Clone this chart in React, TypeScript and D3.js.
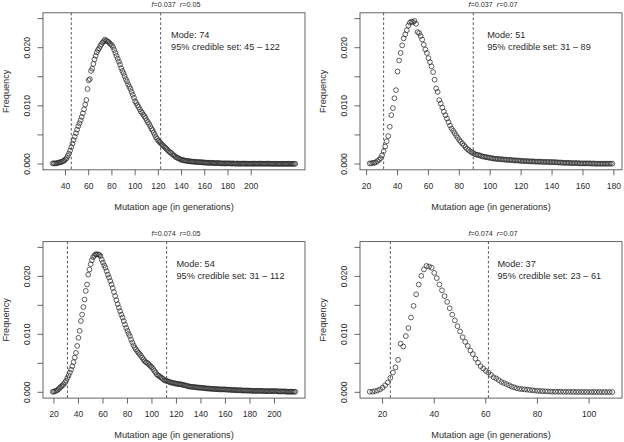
import React from "react";
import * as d3 from "d3";

// ---------- data (frequency values in units of 1e-3, one per generation) ----------
const startAge1 = 29;
const freq1 = [
  0.1, 0.1, 0.1, 0.1, 0.2, 0.2, 0.3, 0.3, 0.4, 0.5,
  0.6, 0.8, 1.0, 1.4, 1.8, 2.3, 2.9, 3.5, 4.1, 4.7,
  5.3, 5.9, 6.5, 7.0, 7.5, 8.1, 8.7, 9.4, 10.2, 11.0,
  12.9, 14.4, 14.6, 16.0, 16.4, 17.2, 18.0, 18.6, 19.2, 19.6,
  19.9, 20.3, 20.6, 20.9, 21.1, 21.4, 21.2, 21.1, 21.0, 20.8,
  20.6, 20.4, 20.1, 19.6, 19.1, 18.6, 18.1, 17.6, 17.1, 16.5,
  16.0, 15.6, 15.1, 14.6, 14.2, 13.7, 13.3, 12.9, 12.4, 11.9,
  11.4, 10.8, 10.5, 10.1, 9.8, 9.4, 9.0, 8.8, 8.5, 8.2,
  7.9, 7.5, 7.2, 6.9, 6.5, 6.1, 5.8, 5.4, 5.0, 4.6,
  4.3, 4.0, 3.8, 3.6, 3.4, 3.2, 3.0, 2.8, 2.6, 2.4,
  2.2, 2.0, 1.9, 1.7, 1.5, 1.4, 1.2, 1.1, 1.0, 0.9,
  0.8, 0.7, 0.7, 0.6, 0.6, 0.55, 0.5, 0.5, 0.45, 0.45,
  0.4, 0.4, 0.4, 0.35, 0.35, 0.35, 0.3, 0.3, 0.3, 0.3,
  0.25, 0.25, 0.25, 0.2, 0.2, 0.2, 0.2, 0.2, 0.2, 0.15,
  0.15, 0.15, 0.15, 0.15, 0.15, 0.1, 0.1, 0.1, 0.1, 0.1,
  0.1, 0.1, 0.1, 0.1, 0.05, 0.1, 0.1, 0.05, 0.05, 0.1,
  0.05, 0.05, 0.05, 0.05, 0.1, 0.05, 0.05, 0.05, 0.05, 0.05,
  0.05, 0.05, 0.05, 0.05, 0.05, 0.05, 0.05, 0.05, 0.05, 0.05,
  0.05, 0.05, 0.05, 0.05, 0.05, 0.05, 0.05, 0.05, 0.05, 0.03,
  0.03, 0.03, 0.03, 0.03, 0.03, 0.03, 0.03, 0.03, 0.03, 0.03,
  0.03, 0.03, 0.03, 0.03, 0.03, 0.03, 0.03, 0.03, 0.03, 0.03,
];

const startAge2 = 22;
const freq2 = [
  0.1, 0.1, 0.2, 0.2, 0.3, 0.5, 0.7, 1.0, 1.5, 2.2,
  3.0, 3.9, 4.8, 6.4, 8.4, 9.6, 11.3, 12.7, 15.9, 17.8,
  19.1, 20.4, 21.6, 22.3, 23.0, 23.8, 24.3, 24.5, 24.4, 24.6,
  24.1, 22.7, 22.5, 22.0, 21.4, 20.5, 19.7, 19.1, 18.2, 17.5,
  16.8, 15.8, 14.5, 13.0, 12.4, 11.0, 10.4, 9.7, 9.0, 8.4,
  7.8, 7.2, 6.6, 6.1, 5.7, 5.3, 4.9, 4.5, 4.1, 3.8,
  3.5, 3.2, 2.9, 2.6, 2.4, 2.2, 2.0, 1.9, 1.7, 1.6,
  1.55, 1.5, 1.4, 1.3, 1.25, 1.2, 1.15, 1.1, 1.05, 1.0,
  0.95, 0.9, 0.9, 0.85, 0.85, 0.8, 0.8, 0.75, 0.75, 0.7,
  0.7, 0.7, 0.65, 0.65, 0.6, 0.6, 0.6, 0.55, 0.55, 0.5,
  0.5, 0.5, 0.5, 0.45, 0.45, 0.45, 0.45, 0.4, 0.4, 0.4,
  0.4, 0.4, 0.35, 0.35, 0.35, 0.35, 0.35, 0.3, 0.35, 0.3,
  0.3, 0.3, 0.25, 0.25, 0.25, 0.2, 0.2, 0.2, 0.2, 0.2,
  0.15, 0.15, 0.15, 0.15, 0.15, 0.15, 0.1, 0.1, 0.1, 0.1,
  0.1, 0.1, 0.1, 0.1, 0.05, 0.1, 0.05, 0.05, 0.05, 0.05,
  0.05, 0.05, 0.05, 0.05, 0.05, 0.05, 0.05, 0.05,
];

const startAge3 = 19;
const freq3 = [
  0.1, 0.1, 0.2, 0.3, 0.4, 0.6, 0.8, 1.0, 1.2, 1.4,
  1.7, 2.0, 2.5, 2.9, 3.4, 3.9, 4.5, 5.2, 6.0, 6.8,
  8.0, 9.4, 10.6, 12.3, 13.4, 14.7, 16.0, 17.5, 18.6, 20.3,
  21.2, 22.1, 22.8, 23.3, 23.6, 23.8, 23.8, 23.8, 23.7, 23.5,
  22.9, 22.4, 21.9, 21.5, 20.9, 20.3, 19.8, 19.2, 18.6, 18.0,
  17.3, 16.6, 15.9, 15.2, 14.6, 14.0, 13.4, 12.9, 12.3, 11.7,
  11.1, 10.6, 10.1, 9.7, 9.1, 8.6, 8.1, 7.7, 7.4, 7.1,
  6.8, 6.6, 6.3, 6.0, 5.7, 5.4, 5.2, 5.1, 4.9, 4.7,
  4.5, 4.3, 4.0, 3.7, 3.4, 3.1, 2.9, 2.8, 2.6, 2.5,
  2.3, 2.1, 2.0, 2.0, 1.9, 1.8, 1.7, 1.7, 1.6, 1.6,
  1.5, 1.5, 1.45, 1.4, 1.4, 1.35, 1.3, 1.25, 1.2, 1.15,
  1.1, 1.0, 1.0, 0.95, 0.95, 0.9, 0.9, 0.85, 0.85, 0.8,
  0.8, 0.8, 0.75, 0.75, 0.7, 0.7, 0.65, 0.65, 0.65, 0.6,
  0.6, 0.6, 0.55, 0.55, 0.55, 0.55, 0.5, 0.5, 0.5, 0.5,
  0.5, 0.5, 0.45, 0.45, 0.45, 0.45, 0.4, 0.4, 0.4, 0.4,
  0.35, 0.35, 0.35, 0.35, 0.35, 0.3, 0.3, 0.3, 0.3, 0.3,
  0.3, 0.3, 0.25, 0.25, 0.25, 0.25, 0.25, 0.25, 0.25, 0.25,
  0.25, 0.25, 0.2, 0.2, 0.2, 0.2, 0.2, 0.2, 0.2, 0.2,
  0.2, 0.2, 0.2, 0.2, 0.15, 0.15, 0.15, 0.15, 0.15, 0.15,
  0.15, 0.1, 0.1, 0.1, 0.1, 0.1, 0.1, 0.1, 0.1,
];

const startAge4 = 15;
const freq4 = [
  0.1, 0.1, 0.2, 0.3, 0.5, 0.8, 1.2, 1.7, 2.5, 3.4,
  4.3, 5.6, 8.4, 7.9, 9.7, 11.1, 12.9, 14.9, 16.9, 18.6,
  20.1, 21.2, 21.8, 21.7, 21.5, 20.6, 19.7, 18.6, 17.6, 16.6,
  15.6, 14.5, 13.4, 12.4, 11.4, 10.5, 9.5, 8.7, 8.0, 7.2,
  6.6, 5.8, 5.1, 4.5, 4.1, 3.7, 3.4, 3.0, 2.6, 2.4,
  2.1, 1.8, 1.6, 1.4, 1.2, 1.0, 0.85, 0.7, 0.6, 0.55,
  0.5, 0.45, 0.4, 0.35, 0.3, 0.25, 0.22, 0.2, 0.18, 0.15,
  0.12, 0.1, 0.1, 0.1, 0.1, 0.08, 0.08, 0.08, 0.07, 0.07,
  0.07, 0.06, 0.06, 0.06, 0.05, 0.05, 0.05, 0.05, 0.05, 0.05,
  0.04, 0.04, 0.04, 0.04, 0.04,
];

const fLabels = ["0.037", "0.037", "0.074", "0.074"];
const rLabels = ["0.05", "0.07", "0.05", "0.07"];
const modes = [74, 51, 54, 37];
const ciLow = [45, 31, 31, 23];
const ciHigh = [122, 89, 112, 61];
const annotAge = [131, 98, 120, 64.5];
const xTicks1 = [40, 60, 80, 100, 120, 140, 160, 180, 200];
const xTicks2 = [20, 40, 60, 80, 100, 120, 140, 160, 180];
const xTicks3 = [20, 40, 60, 80, 100, 120, 140, 160, 180, 200];
const xTicks4 = [20, 40, 60, 80, 100];
const yTicks = [0, 0.005, 0.01, 0.015, 0.02, 0.025];
const yTickLabels = ["0.000", "", "0.010", "", "0.020", ""];
const yLimits = [0, 0.025];

// ---------- layout ----------
const W = 624;
const H = 442;
const cols = [
  { left: 43, right: 305 },
  { left: 360, right: 622 },
];
const rows = [
  { top: 12.8, bottom: 169.8 },
  { top: 241.6, bottom: 398.1 },
];
const FONT = "'Liberation Sans', Arial, Helvetica, sans-serif";
const INK = "#2b2b2b";
const AXIS = "#555";

const panelData = [
  { start: startAge1, freq: freq1, ticks: xTicks1, col: 0, row: 0 },
  { start: startAge2, freq: freq2, ticks: xTicks2, col: 1, row: 0 },
  { start: startAge3, freq: freq3, ticks: xTicks3, col: 0, row: 1 },
  { start: startAge4, freq: freq4, ticks: xTicks4, col: 1, row: 1 },
];

function Panel({ idx }: { idx: number }) {
  const p = panelData[idx];
  const c = cols[p.col];
  const r = rows[p.row];
  const points = p.freq.map((v, i) => ({ age: p.start + i, f: v * 1e-3 }));
  const aMin = p.start;
  const aMax = p.start + p.freq.length - 1;
  const span = aMax - aMin;
  const x = d3
    .scaleLinear()
    .domain([aMin - 0.04 * span, aMax + 0.04 * span])
    .range([c.left, c.right]);
  const ySpan = yLimits[1] - yLimits[0];
  const y = d3
    .scaleLinear()
    .domain([yLimits[0] - 0.04 * ySpan, yLimits[1] + 0.04 * ySpan])
    .range([r.bottom, r.top]);
  const cx = (c.left + c.right) / 2;
  const cy = (r.top + r.bottom) / 2;
  const tick = 5.5;

  return (
    <g>
      {/* title */}
      <text
        x={cx + 2}
        y={r.top - 6}
        textAnchor="middle"
        fontSize={7.2}
        fill={INK}
        fontFamily={FONT}
      >
        <tspan fontStyle="italic">f</tspan>
        <tspan>{"=" + fLabels[idx]}</tspan>
        <tspan dx={4} fontStyle="italic">r</tspan>
        <tspan>{"=" + rLabels[idx]}</tspan>
      </text>

      {/* points */}
      {points.map((d, i) => (
        <circle
          key={i}
          cx={x(d.age)}
          cy={y(d.f)}
          r={2.4}
          fill="none"
          stroke={INK}
          strokeWidth={0.75}
        />
      ))}

      {/* credible set lines */}
      {[ciLow[idx], ciHigh[idx]].map((v, i) => (
        <line
          key={i}
          x1={x(v)}
          x2={x(v)}
          y1={r.top}
          y2={r.bottom}
          stroke="#444"
          strokeWidth={0.9}
          strokeDasharray="2.6,2.2"
        />
      ))}

      {/* box */}
      <rect
        x={c.left}
        y={r.top}
        width={c.right - c.left}
        height={r.bottom - r.top}
        fill="none"
        stroke={AXIS}
        strokeWidth={0.9}
      />

      {/* x axis */}
      {p.ticks.map((t) => (
        <g key={t}>
          <line
            x1={x(t)}
            x2={x(t)}
            y1={r.bottom}
            y2={r.bottom + tick}
            stroke={AXIS}
            strokeWidth={0.9}
          />
          <text
            x={x(t)}
            y={r.bottom + 19.3}
            textAnchor="middle"
            fontSize={8.6}
            fill={INK}
            fontFamily={FONT}
          >
            {t}
          </text>
        </g>
      ))}
      <text
        x={cx}
        y={r.bottom + 40}
        textAnchor="middle"
        fontSize={9.2}
        fill={INK}
        fontFamily={FONT}
      >
        Mutation age (in generations)
      </text>

      {/* y axis */}
      {yTicks.map((t, i) => (
        <g key={t}>
          <line
            x1={c.left - tick}
            x2={c.left}
            y1={y(t)}
            y2={y(t)}
            stroke={AXIS}
            strokeWidth={0.9}
          />
          {yTickLabels[i] && (
            <text
              transform={`translate(${c.left - 13.5},${y(t)}) rotate(-90)`}
              textAnchor="middle"
              fontSize={8.6}
              fill={INK}
              fontFamily={FONT}
            >
              {yTickLabels[i]}
            </text>
          )}
        </g>
      ))}
      <text
        transform={`translate(${c.left - 34.5},${cy}) rotate(-90)`}
        textAnchor="middle"
        fontSize={9.2}
        fill={INK}
        fontFamily={FONT}
      >
        Frequency
      </text>

      {/* annotation */}
      <text
        x={x(annotAge[idx])}
        y={r.top + 25.5}
        fontSize={9.2}
        fill={INK}
        fontFamily={FONT}
      >
        {"Mode: " + modes[idx]}
      </text>
      <text
        x={x(annotAge[idx])}
        y={r.top + 37.2}
        fontSize={9.2}
        fill={INK}
        fontFamily={FONT}
      >
        {`95% credible set: ${ciLow[idx]} \u2013 ${ciHigh[idx]}`}
      </text>
    </g>
  );
}

export default function App() {
  return (
    <svg
      width={W}
      height={H}
      viewBox={`0 0 ${W} ${H}`}
      style={{ position: "absolute", left: 0, top: 0, background: "#fff" }}
    >
      <rect x={0} y={0} width={W} height={H} fill="#fff" />
      {panelData.map((_, i) => (
        <Panel key={i} idx={i} />
      ))}
    </svg>
  );
}
